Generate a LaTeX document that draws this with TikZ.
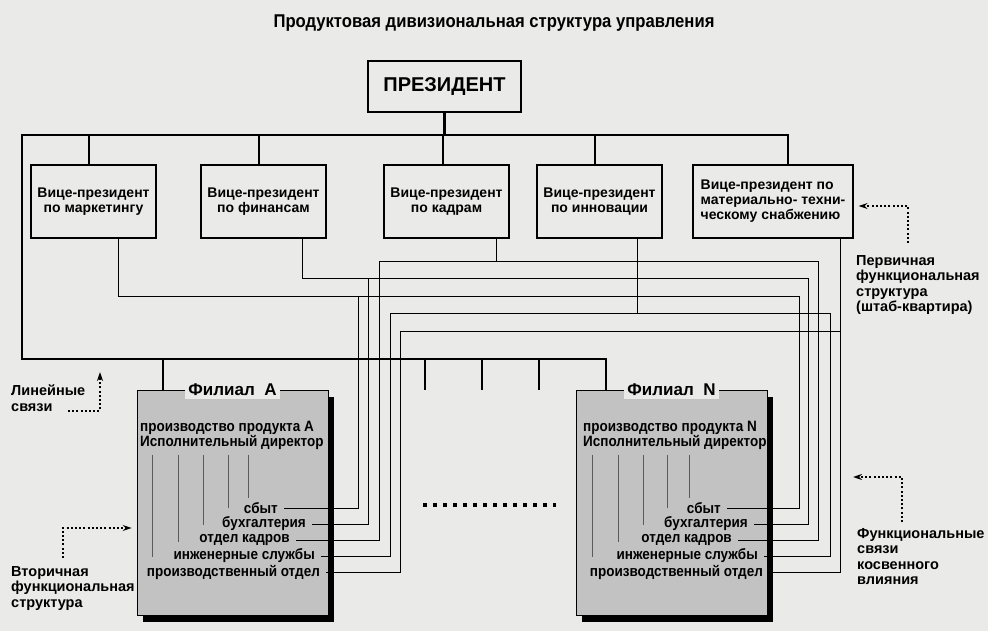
\documentclass[tikz,border=0pt]{standalone}
\usepackage{fontspec}
\setmainfont{Liberation Sans}
\newfontfamily\narrowfont[FakeStretch=0.9]{Liberation Sans}
\usetikzlibrary{calc,arrows.meta}
\definecolor{paper}{RGB}{234,234,232}
\definecolor{filfill}{RGB}{194,194,194}
\definecolor{secline}{RGB}{90,90,90}
\begin{document}
\begin{tikzpicture}[x=1pt,y=-1pt,line join=miter,
  bus/.style={line width=2.6pt},
  box/.style={draw, line width=1.3pt, fill=paper, align=center, font=\fontsize{14}{15}\selectfont\bfseries},
  vpbox/.style={box, minimum width=125pt, minimum height=73pt, inner sep=2pt},
  fl/.style={line width=0.9pt},
  sec/.style={line width=1pt, secline},
  filial/.style={draw, line width=0.8pt, fill=filfill, minimum width=191pt, minimum height=225pt, inner sep=0pt},
  ftitle/.style={fill=paper, inner sep=3pt, font=\fontsize{17}{17}\selectfont\bfseries},
  innertxt/.style={font=\narrowfont\fontsize{15}{15}\selectfont\bfseries, inner sep=0pt, align=left},
  dept/.style={font=\narrowfont\fontsize{15}{15}\selectfont\bfseries, anchor=east, inner xsep=6pt, inner ysep=0pt},
  note/.style={line width=2pt, dash pattern=on 2pt off 2.2pt, -{Stealth[length=9pt,width=6pt]}},
  lbl/.style={font=\fontsize{14.5}{15.5}\selectfont\bfseries, align=left, inner sep=0pt, anchor=north west},
  dotrow/.style={line width=3.5pt, dash pattern=on 3.5pt off 6.5pt}
]
\fill[paper] (0,0) rectangle (988,631);
\useasboundingbox (0,0) rectangle (988,631);

% title
\node[font=\narrowfont\fontsize{18.5}{18.5}\selectfont\bfseries] (title) at (494,23) {Продуктовая дивизиональная структура управления};

% president and vice-presidents
\node[box, line width=1.6pt, minimum width=153pt, minimum height=51pt, font=\fontsize{20}{20}\selectfont\bfseries] (pres) at (444.5,86.5) {ПРЕЗИДЕНТ};
\node[vpbox] (vp1) at (93.5,201.5) {Вице-президент\\по маркетингу};
\node[vpbox] (vp2) at (263.5,201.5) {Вице-президент\\по финансам};
\node[vpbox] (vp3) at (446.5,201.5) {Вице-президент\\по кадрам};
\node[vpbox] (vp4) at (599.5,201.5) {Вице-президент\\по инновации};
\node[vpbox, minimum width=160pt, align=left] (vp5) at (773,201.5) {Вице-президент по\\материально- техни-\\ческому снабжению};

% filials (shadow first)
\fill[black] (143,397) rectangle (334,622);
\node[filial] (fA) at (232.5,502.5) {};
\fill[black] (582,397) rectangle (773,622);
\node[filial] (fN) at (671.5,502.5) {};
\node[ftitle] (fAt) at (fA.north) {Филиал\ \ А};
\node[ftitle] (fNt) at (fN.north) {Филиал\ \ N};

\node[innertxt, anchor=west] (pA) at (140,435.5) {производство продукта А\\Исполнительный директор};
\node[innertxt, anchor=west] (pN) at (583,435.5) {производство продукта N\\Исполнительный директор};

\foreach \x/\yb in {152/557,178/542,203/525,228/508,248/498,592/557,618/542,643/525,667/508,689/498}
  \draw[sec] (\x,455) -- (\x,\yb);

% departments
\node[dept] (sA1) at (284,508) {сбыт};
\node[dept] (sA2) at (312,524) {бухгалтерия};
\node[dept] (sA3) at (296,540) {отдел кадров};
\node[dept] (sA4) at (321,556) {инженерные службы};
\node[dept] (sA5) at (326,572) {производственный отдел};
\node[dept] (sN1) at (727,508) {сбыт};
\node[dept] (sN2) at (754,524) {бухгалтерия};
\node[dept] (sN3) at (738,540) {отдел кадров};
\node[dept] (sN4) at (764,556) {инженерные службы};
\node[dept] (sN5) at (769,572) {производственный отдел};

% linear connections
\coordinate (busL) at (22,135);
\coordinate (busR) at (788,135);
\coordinate (botL) at (22,359);
\coordinate (botR) at (606,359);
\coordinate (t1) at (89,135);
\coordinate (t2) at (259,135);
\coordinate (t3) at (443,135);
\coordinate (t4) at (595,135);
\coordinate (tA) at (163,359);
\coordinate (k1) at (425,359);
\coordinate (k2) at (482,359);
\coordinate (k3) at (539,359);
\draw[bus] (pres.south) -- (pres.south |- busL);
\draw[bus] (busR |- vp5.north) -- (busR) -- (busL) -- (botL) -- (botR) -- (botR |- fN.north);
\foreach \i in {1,2,3,4} \draw[bus] (t\i) -- (t\i |- vp\i.north);
\draw[bus] (tA) -- (tA |- fA.north);
\foreach \k in {k1,k2,k3} \draw[bus] (\k) -- ($(\k)+(0,31)$);

% functional connections
\coordinate (mk) at (118,296); \coordinate (mkA) at (358,296); \coordinate (mkN) at (799,296);
\coordinate (fn) at (302,278); \coordinate (fnA) at (368,278); \coordinate (fnN) at (808,278);
\coordinate (kd) at (496,261); \coordinate (kdA) at (379,261); \coordinate (kdN) at (818,261);
\coordinate (in) at (637,313); \coordinate (inA) at (390,313); \coordinate (inN) at (830,313);
\coordinate (ms) at (840,331); \coordinate (msA) at (400,331);

\draw[fl] (vp1.south -| mk) -- (mk) -- (mkN) -- (mkN |- sN1.east) -- (sN1.east);
\draw[fl] (mkA) -- (mkA |- sA1.east) -- (sA1.east);
\draw[fl] (vp2.south -| fn) -- (fn) -- (fnN) -- (fnN |- sN2.east) -- (sN2.east);
\draw[fl] (fnA) -- (fnA |- sA2.east) -- (sA2.east);
\draw[fl] (vp3.south -| kd) -- (kd);
\draw[fl] (sA3.east) -- (sA3.east -| kdA) -- (kdA) -- (kdN) -- (kdN |- sN3.east) -- (sN3.east);
\draw[fl] (vp4.south -| in) -- (in);
\draw[fl] (sA4.east) -- (sA4.east -| inA) -- (inA) -- (inN) -- (inN |- sN4.east) -- (sN4.east);
\draw[fl] (sA5.east) -- (sA5.east -| msA) -- (msA) -- (ms) -- (vp5.south -| ms);
\draw[fl] (ms) -- (ms |- sN5.east) -- (sN5.east);

% dotted row between filials
\coordinate (d1) at (423,505); \coordinate (d2) at (556,505);
\draw[dotrow] (d1) -- (d2);

% annotations
\node[lbl] (lP) at (856,255) {Первичная\\функциональная\\структура\\(штаб-квартира)};
\coordinate (pa) at (908,243); \coordinate (pb) at (908,206);
\draw[note, shorten >=5pt] (pa) -- (pb) -- (pb -| vp5.east);

\node[lbl] (lL) at (11,385) {Линейные\\связи};
\coordinate (la) at (68,411); \coordinate (lb) at (100,411); \coordinate (lc) at (100,372);
\draw[note] (la) -- (lb) -- (lc);

\node[lbl] (lV) at (11,566) {Вторичная\\функциональная\\структура};
\coordinate (va) at (63,558); \coordinate (vb) at (63,528);
\draw[note, shorten >=5pt] (va) -- (vb) -- (vb -| fA.west);

\node[lbl] (lF) at (857,528) {Функциональные\\связи\\косвенного\\влияния};
\coordinate (fa) at (902,522); \coordinate (fb) at (902,477); \coordinate (fc) at (853,477);
\draw[note] (fa) -- (fb) -- (fc);
\end{tikzpicture}
\end{document}
